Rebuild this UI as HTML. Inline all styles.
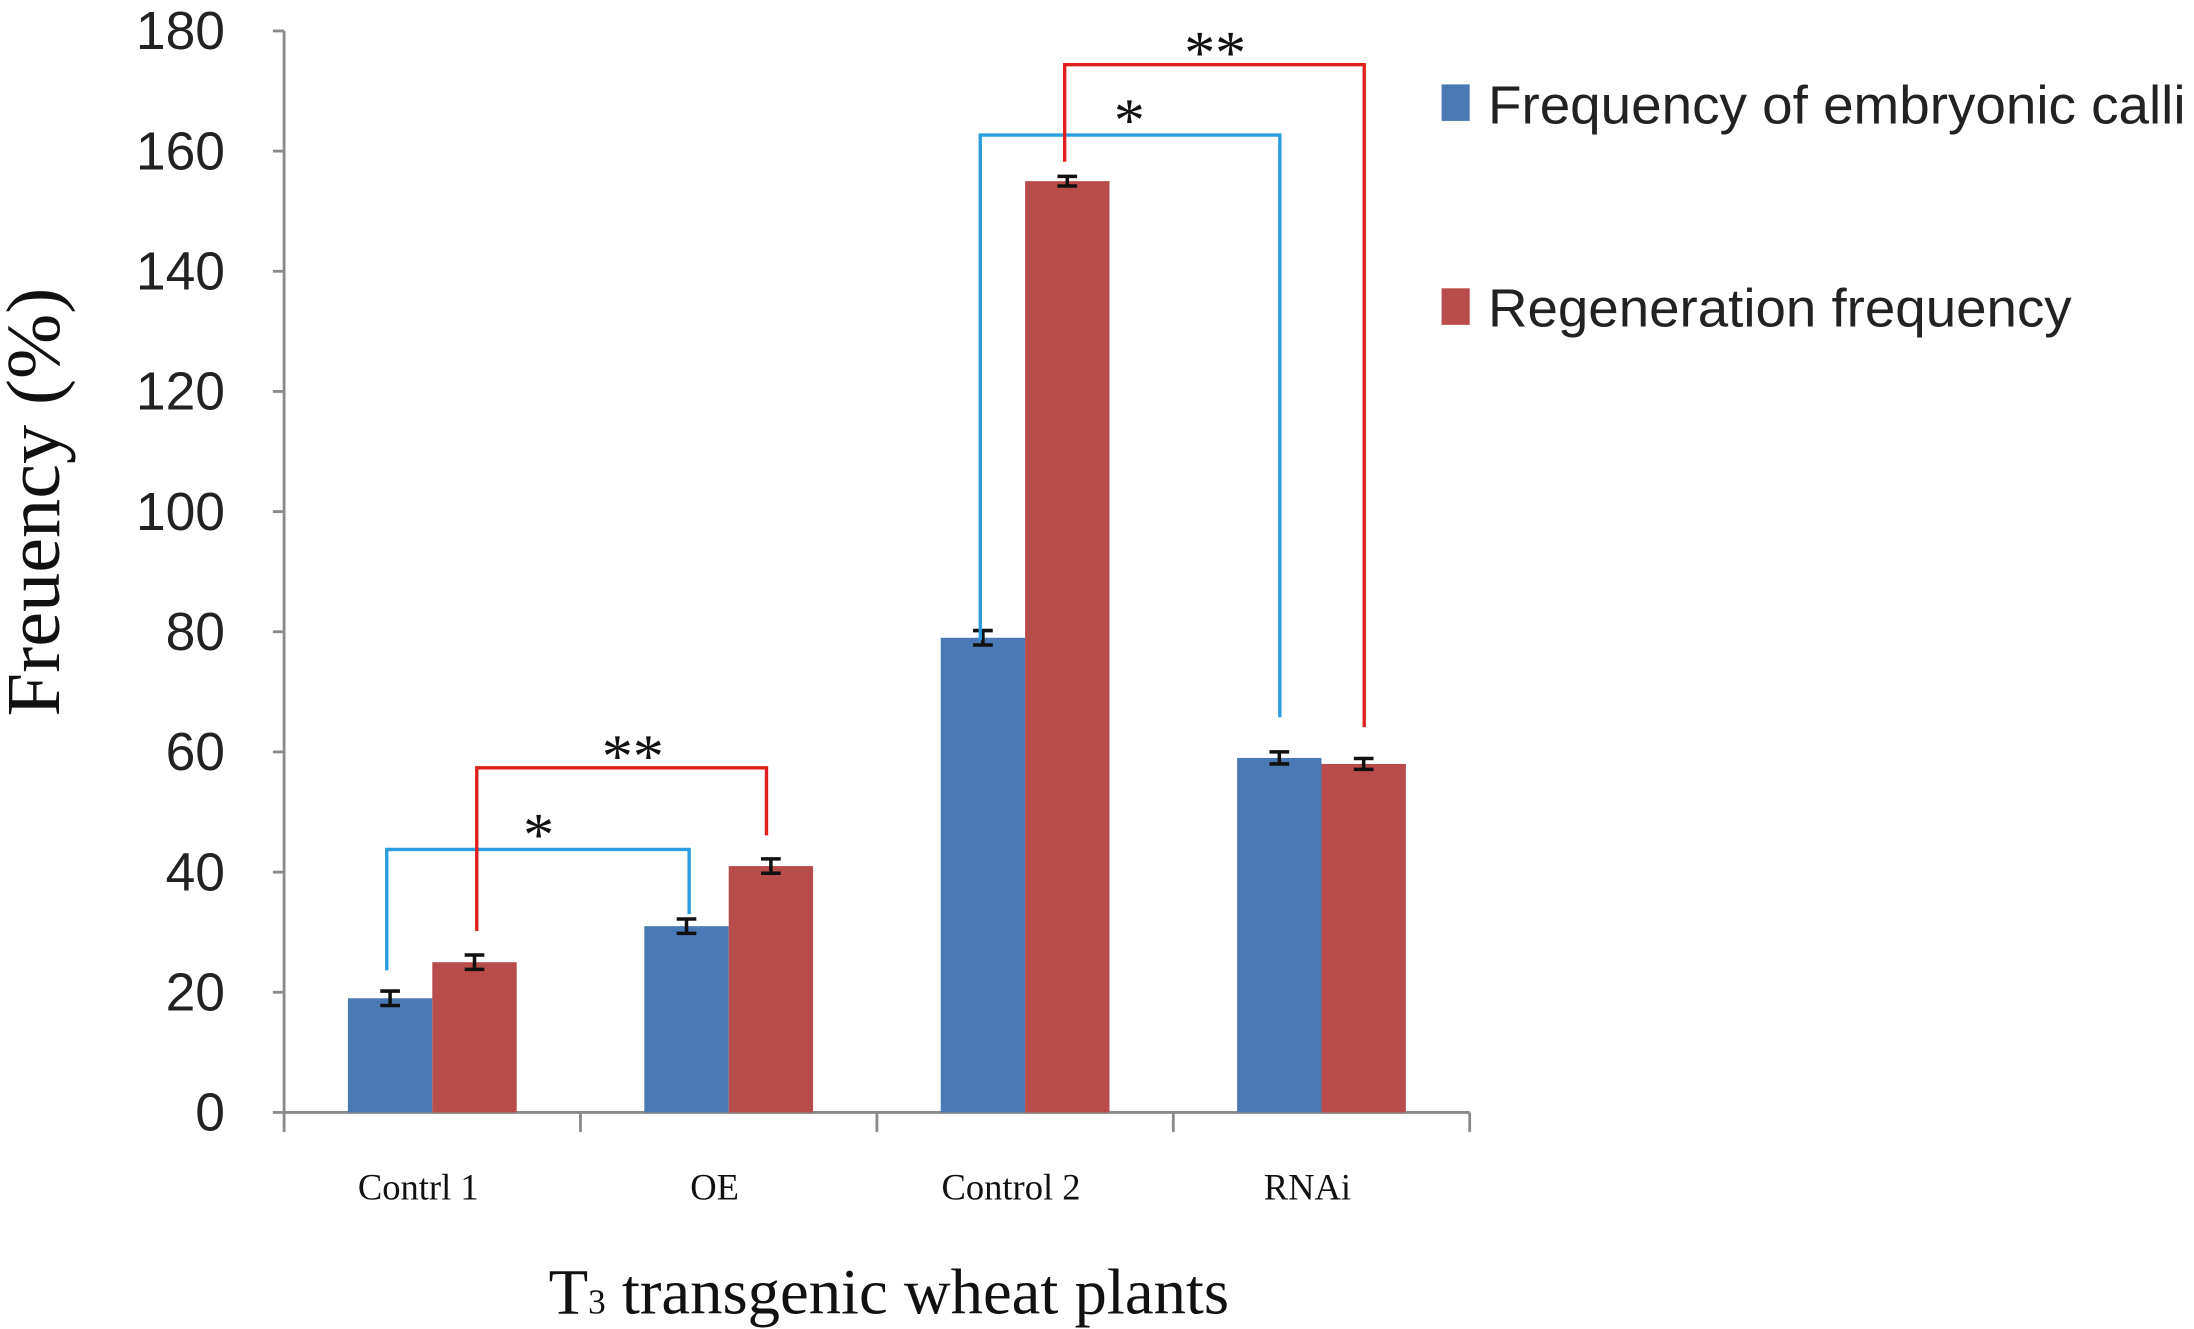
<!DOCTYPE html>
<html><head><meta charset="utf-8"><style>
html,body{margin:0;padding:0;background:#fff}
svg{display:block}
</style></head><body>
<svg id="chart" width="2194" height="1329" viewBox="0 0 1560 945" preserveAspectRatio="none" xmlns="http://www.w3.org/2000/svg">
<g id="axes"></g>
<g id="bars"></g>
<g id="labels"></g>
<g>
<rect x="1025" y="60" width="20" height="26" fill="#4a7ab5"/>
<text x="1058" y="88" font-family="Liberation Sans Narrow, Liberation Sans, sans-serif" font-size="38" fill="#222" textLength="496" lengthAdjust="spacingAndGlyphs">Frequency of embryonic calli</text>
<rect x="1025" y="205" width="20" height="26" fill="#b84c4a"/>
<text x="1058" y="232" font-family="Liberation Sans Narrow, Liberation Sans, sans-serif" font-size="38" fill="#222" textLength="415" lengthAdjust="spacingAndGlyphs">Regeneration frequency</text>
</g>
<text transform="translate(42,357) rotate(-90)" text-anchor="middle" font-family="Liberation Serif, serif" font-size="54" fill="#111" textLength="305" lengthAdjust="spacingAndGlyphs">Freuency (%)</text>
<text x="632" y="934" text-anchor="middle" font-family="Liberation Serif, serif" font-size="46" fill="#111">T<tspan font-size="25">3</tspan> transgenic wheat plants</text>
<g fill="none" stroke-width="2.4">
<path d="M275 690 V604 H490 V650" stroke="#2a9de0"/>
<path d="M339 662 V546 H545 V594" stroke="#e0201c"/>
<path d="M697 455 V96 H910 V510" stroke="#2a9de0"/>
<path d="M757 115 V46 H970 V517" stroke="#e0201c"/>
</g>
<g font-family="Liberation Serif, serif" font-size="44" fill="#111" text-anchor="middle">
<text x="383" y="608">*</text>
<text x="450" y="552">**</text>
<text x="803" y="100">*</text>
<text x="864" y="52">**</text>
</g>
</svg>
<script>
const categories = ["Contrl 1", "OE", "Control 2", "RNAi"];
const embryonicValues = [19, 31, 79, 59];
const regenerationValues = [25, 41, 155, 58];
const embryonicErrors = [1.2, 1.2, 1.2, 1.0];
const regenerationErrors = [1.2, 1.2, 0.8, 0.9];
const yTicks = [0, 20, 40, 60, 80, 100, 120, 140, 160, 180];

const NS = "http://www.w3.org/2000/svg";
const x0 = 202, x1 = 1045, yZero = 791, yTop = 22, yMax = 180;
const bw = (x1 - x0) / categories.length;
const barW = 60;
function y(v){ return yZero - (v / yMax) * (yZero - yTop); }
function xc(i){ return x0 + bw * (i + 0.5); }
function mk(tag, attrs, parent){ const e = document.createElementNS(NS, tag); for (const k in attrs) e.setAttribute(k, attrs[k]); parent.appendChild(e); return e; }

const axes = document.getElementById('axes');
const bars = document.getElementById('bars');
const labels = document.getElementById('labels');

let yl = mk('line', {x1:x0, y1:yTop, x2:x0, y2:yZero, stroke:'#8a8a8a', 'stroke-width':2}, axes);


let xl = mk('line', {x1:x0, y1:yZero, x2:x1, y2:yZero, stroke:'#8a8a8a', 'stroke-width':2}, axes);



yTicks.forEach(t => {
  const tk = mk('line', {x1:x0-8, y1:y(t), x2:x0, y2:y(t), stroke:'#8a8a8a', 'stroke-width':2}, axes);
  
  
  const tl = mk('text', {x:160, y:y(t)+13, 'text-anchor':'end', 'font-family':'Liberation Sans Narrow, Liberation Sans, sans-serif', 'font-size':38, fill:'#222'}, labels);
  tl.textContent = t;
  
  
});
for (let i = 0; i <= categories.length; i++) {
  const tk = mk('line', {x1:x0+bw*i, y1:yZero, x2:x0+bw*i, y2:yZero+14, stroke:'#8a8a8a', 'stroke-width':2}, axes);
  
  
}

function drawErr(cx, v, e){
  const g = mk('g', {stroke:'#111', 'stroke-width':2.5}, bars);
  
  
  mk('line', {x1:cx, y1:y(v+e), x2:cx, y2:y(v-e)}, g);
  mk('line', {x1:cx-7, y1:y(v+e), x2:cx+7, y2:y(v+e)}, g);
  mk('line', {x1:cx-7, y1:y(v-e), x2:cx+7, y2:y(v-e)}, g);
}

categories.forEach((c, i) => {
  const cx = xc(i);
  const b1 = mk('rect', {x:cx-barW, y:y(embryonicValues[i]), width:barW, height:yZero-y(embryonicValues[i]), fill:'#4a7ab5'}, bars);
  
  
  const b2 = mk('rect', {x:cx, y:y(regenerationValues[i]), width:barW, height:yZero-y(regenerationValues[i]), fill:'#b84c4a'}, bars);
  
  
  drawErr(cx-barW/2, embryonicValues[i], embryonicErrors[i]);
  drawErr(cx+barW/2, regenerationValues[i], regenerationErrors[i]);
  const t = mk('text', {x:cx-10, y:853, 'text-anchor':'middle', 'font-family':'Liberation Serif, serif', 'font-size':26, fill:'#111'}, labels);
  t.textContent = c;
  
  
});
</script>
</body></html>
